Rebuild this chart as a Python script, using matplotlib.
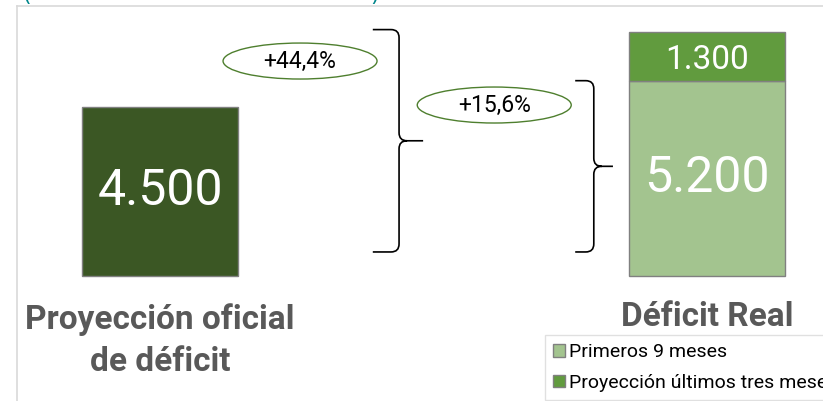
import matplotlib
matplotlib.use("Agg")
import matplotlib.pyplot as plt
from matplotlib.patches import Ellipse, PathPatch
from matplotlib.path import Path

# ------------------------
# Data
# ------------------------
categories = ["Proyección oficial\nde déficit", "Déficit Real"]
oficial = [4500, 0]
primeros = [0, 5200]
ultimos = [0, 1300]
value_labels = ["4.500", "5.200", "1.300"]
pct_labels = ["+44,4%", "+15,6%"]
legend_labels = ["Primeros 9 meses", "Proyección últimos tres meses"]

DARK = "#3B5724"
LIGHT = "#A3C48F"
MID = "#619B3E"
EDGE = "#808080"
GRAY_TXT = "#595959"

FONT = ["Roboto", "DejaVu Sans"]

fig = plt.figure(figsize=(8.23, 4.01), dpi=100)
ax = fig.add_axes([0, 0, 1, 1])
ax.set_xlim(-0.2925, 1.212)
ax.set_ylim(-3328, 7348)
ax.axis("off")

x = [0, 1]
w = 0.285

ax.bar(x[0], oficial[0], width=w, color=DARK, edgecolor=EDGE, linewidth=1)
b1 = ax.bar(x[1], primeros[1], width=w, color=LIGHT, edgecolor=EDGE, linewidth=1)
b2 = ax.bar(x[1], ultimos[1], bottom=primeros[1], width=w, color=MID,
            edgecolor=EDGE, linewidth=1)

ax.text(x[0], oficial[0] / 2, value_labels[0], color="white", fontsize=36,
        family=FONT, ha="center", va="center")
ax.text(x[1], primeros[1] / 2, value_labels[1], color="white", fontsize=36,
        family=FONT, ha="center", va="center")
ax.text(x[1], primeros[1] + ultimos[1] / 2 - 100, value_labels[2], color="white",
        fontsize=24, family=FONT, ha="center", va="center")

# category labels under the bars
ax.text(x[0], -1720, categories[0], color=GRAY_TXT, fontsize=24, family=FONT,
        fontweight="bold", ha="center", va="center", linespacing=1.4)
ax.text(x[1], -1090, categories[1], color=GRAY_TXT, fontsize=24, family=FONT,
        fontweight="bold", ha="center", va="center")


# ------------------------
# curly brackets
# ------------------------
def brace(x_left, x_right, x_tip, y_top, y_bot, r=8):
    T = ax.transData
    xl, yt = T.transform((x_left, y_top))
    xr, yb = T.transform((x_right, y_bot))
    xt, _ = T.transform((x_tip, 0))
    ym = (yt + yb) / 2
    verts = [(xl, yt), (xr - r, yt), (xr, yt), (xr, yt - r),
             (xr, ym + r), (xr, ym), (xr + r, ym), (xt, ym),
             (xr + r, ym), (xr, ym), (xr, ym - r),
             (xr, yb + r), (xr, yb), (xr - r, yb), (xl, yb)]
    codes = [Path.MOVETO, Path.LINETO, Path.CURVE3, Path.CURVE3,
             Path.LINETO, Path.CURVE3, Path.CURVE3, Path.LINETO,
             Path.MOVETO, Path.CURVE3, Path.CURVE3,
             Path.LINETO, Path.CURVE3, Path.CURVE3, Path.LINETO]
    fig.add_artist(PathPatch(Path(verts, codes), transform=None, fill=False,
                             edgecolor="black", linewidth=1.2))


total_real = primeros[1] + ultimos[1]
brace(0.389, 0.437, 0.481, total_real + 60, 640)
brace(0.759, 0.793, 0.828, primeros[1], 640)

# percentage bubbles
for (cx, cy), lab in zip([(0.256, 5723), (0.611, 4552)], pct_labels):
    ax.add_patch(Ellipse((cx, cy), 0.2815, 958, facecolor="white",
                         edgecolor="#4E7F2E", linewidth=1))
    ax.text(cx, cy, lab, fontsize=16.5, family=FONT, color="black",
            ha="center", va="center")

# legend (cut by the right edge as in the source)
leg = fig.legend([b1, b2], legend_labels, loc="upper left",
                 bbox_to_anchor=(545 / 823, 1 - 335 / 401),
                 prop={"family": FONT, "size": 14},
                 frameon=True, fancybox=False, edgecolor="#d9d9d9",
                 handlelength=0.62, handleheight=0.62, handletextpad=0.2,
                 labelspacing=0.66, borderpad=0.42, borderaxespad=0)
leg.get_frame().set_linewidth(1)

# outer frame + remnants of the clipped title
fig.add_artist(plt.Line2D([17 / 823, 1], [1 - 6 / 401] * 2, color="#d9d9d9", lw=1.2))
fig.add_artist(plt.Line2D([17 / 823] * 2, [0, 1 - 6 / 401], color="#d9d9d9", lw=1.2))
fig.text(26 / 823, 1 + 5 / 401, "(", color="#00868B", fontsize=16, ha="center",
         va="center")
fig.text(375 / 823, 1 + 5 / 401, ")", color="#00868B", fontsize=16, ha="center",
         va="center")

fig.savefig("out.png", dpi=100)
